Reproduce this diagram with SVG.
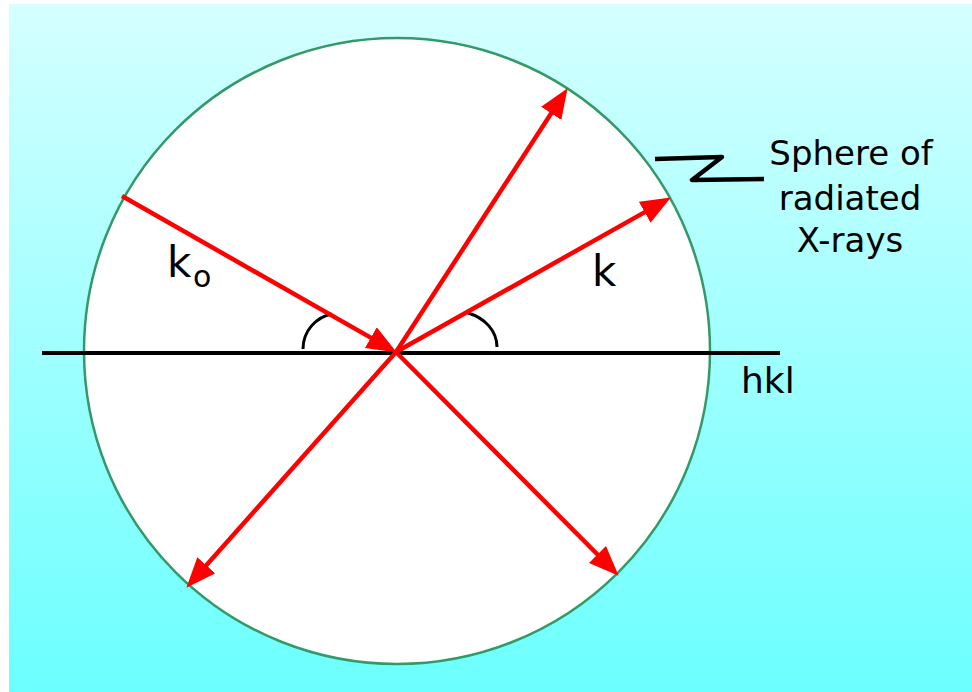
<svg xmlns="http://www.w3.org/2000/svg" width="972" height="692" viewBox="0 0 972 692">
  <defs>
    <linearGradient id="bg" x1="0" y1="0" x2="0" y2="1">
      <stop offset="0" stop-color="#d5ffff"/>
      <stop offset="1" stop-color="#6cffff"/>
    </linearGradient>
    <marker id="ah" markerUnits="userSpaceOnUse" markerWidth="32" markerHeight="26" refX="17" refY="12" orient="auto">
      <path d="M0,0 L30,12 L0,24 z" fill="#ff0000"/>
    </marker>
  </defs>
  <style>
    .ray{stroke:#ff0000;stroke-width:4.5;fill:none;marker-end:url(#ah)}
    .blk{stroke:#000;fill:none;stroke-width:3}
    .lbl{font-family:"DejaVu Sans",sans-serif;fill:#000}
  </style>
  <rect x="0" y="0" width="972" height="692" fill="#ffffff"/>
  <rect x="9" y="4" width="963" height="688" fill="url(#bg)"/>

  <g id="sphere">
    <circle cx="397" cy="351" r="313" fill="#ffffff" stroke="#339966" stroke-width="2.5"/>
  </g>

  <g id="plane">
    <line x1="42" y1="353" x2="780" y2="353" stroke="#000" stroke-width="4"/>
    <text class="lbl" x="741" y="393" font-size="36">hkl</text>
  </g>

  <g id="angles">
    <path class="blk" d="M303,349 C303,331 316,317 332,314"/>
    <path class="blk" d="M468,313 C485,318 497,331 497,347"/>
  </g>

  <g id="connectors">
    <line class="ray" x1="122" y1="196" x2="385.6" y2="346.1"/>
    <line class="ray" x1="396" y1="352" x2="560.5" y2="99.1"/>
    <line class="ray" x1="396" y1="352" x2="659.5" y2="203.9"/>
    <line class="ray" x1="396" y1="352" x2="195" y2="578"/>
    <line class="ray" x1="396" y1="352" x2="609.5" y2="566.5"/>
    <path d="M655,159 L722,157 L692,180 L764,179" stroke="#000" stroke-width="4.5" fill="none" stroke-linejoin="round"/>
  </g>

  <g id="label-k0">
    <text class="lbl" x="167" y="277" font-size="42">k</text>
    <text class="lbl" x="193" y="287" font-size="30">o</text>
  </g>

  <g id="label-k">
    <text class="lbl" x="592" y="286" font-size="42">k</text>
  </g>

  <g id="label-sphere">
    <text class="lbl" x="851" y="165" font-size="34" text-anchor="middle">Sphere of</text>
    <text class="lbl" x="850" y="210" font-size="34" text-anchor="middle">radiated</text>
    <text class="lbl" x="850" y="252" font-size="34" text-anchor="middle">X-rays</text>
  </g>
</svg>
